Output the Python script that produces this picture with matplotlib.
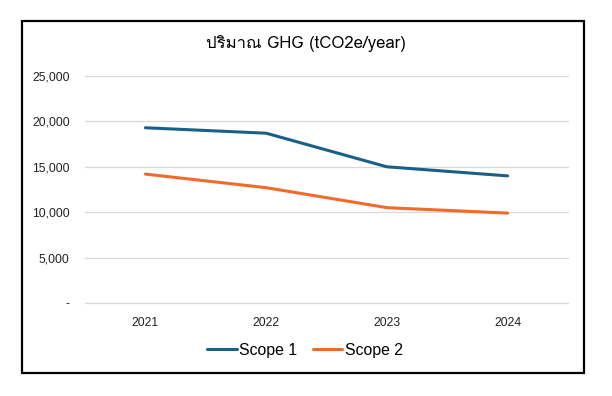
import matplotlib
matplotlib.use("Agg")
import matplotlib.pyplot as plt
from matplotlib import font_manager
from matplotlib.ft2font import FT2Font
from matplotlib.patches import Rectangle
from matplotlib.ticker import FuncFormatter

years = ["2021", "2022", "2023", "2024"]
scope1 = [19300, 18700, 15000, 14000]
scope2 = [14200, 12700, 10500, 9900]
title = "ปริมาณ GHG (tCO2e/year)"


def thai_family():
    # find an installed font that has Thai glyphs
    for f in font_manager.fontManager.ttflist:
        try:
            if FT2Font(f.fname).get_char_index(ord("ป")):
                return f.name
        except Exception:
            pass
    return None


thai = thai_family()
fams = ([thai] if thai else []) + ["Liberation Sans", "DejaVu Sans"]
plt.rcParams["font.family"] = ["Liberation Sans", "DejaVu Sans"]

fig = plt.figure(figsize=(6.12, 3.96), dpi=100)
fig.patches.append(Rectangle((21.5 / 612, 1 - 373 / 396), 562 / 612, 352.5 / 396,
                             transform=fig.transFigure, fill=False,
                             edgecolor="black", linewidth=1.6))

ax = fig.add_axes([85 / 612, 1 - 303 / 396, 483 / 612, 227 / 396])
x = range(len(years))
ax.plot(x, scope1, color="#1a5f86", lw=2.2, label="Scope 1", solid_joinstyle="round", solid_capstyle="round")
ax.plot(x, scope2, color="#ee6b2a", lw=2.2, label="Scope 2", solid_joinstyle="round", solid_capstyle="round")

ax.set_xlim(-0.5, 3.5)
ax.set_ylim(0, 25000)
ax.set_yticks(range(0, 25001, 5000))
ax.yaxis.set_major_formatter(FuncFormatter(lambda v, p: "-" if v == 0 else f"{int(v):,}"))
ax.set_xticks(list(x))
ax.set_xticklabels(years)
ax.grid(axis="y", color="#d9d9d9", lw=0.9)
for gl in ax.get_ygridlines():
    gl.set_clip_on(False)
ax.set_axisbelow(True)
for s in ax.spines.values():
    s.set_visible(False)
ax.tick_params(length=0, labelsize=8.7, colors="#222222")
ax.tick_params(axis="y", pad=11)
ax.tick_params(axis="x", pad=10)

fig.text(0.5, 1 - 44 / 396, title, ha="center", va="center", fontsize=12, family=fams)
fig.legend(loc="center", bbox_to_anchor=(305 / 612, 1 - 350 / 396), ncol=2, frameon=False,
           fontsize=11.4, handlelength=1.85, handletextpad=0.15, columnspacing=1.0)

fig.savefig("out.png", dpi=100)
